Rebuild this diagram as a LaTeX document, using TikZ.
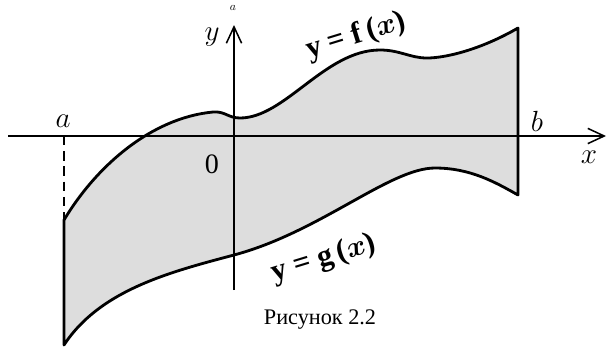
\documentclass[tikz,border=0pt]{standalone}
\usepackage{fontspec}
\setmainfont{Liberation Serif}
\usetikzlibrary{arrows.meta}
\definecolor{regiongray}{RGB}{221,221,221}
\begin{document}
\begin{tikzpicture}[
	x=0.03cm, y=-0.03cm,
	every node/.style={font=\fontsize{24}{28}\selectfont},
	axis/.style={line width=1.3pt, -{Straight Barb[length=14pt,width=13pt,line width=1.3pt]}},
	curve/.style={line width=2.4pt, line join=round},
	funclabel/.style={font=\fontsize{26}{30}\selectfont\bfseries, rotate=17, inner sep=1pt}
	]
	\useasboundingbox (0,0) rectangle (611,350);

	% Corners of the region
	\coordinate (atop) at (64,220);
	\coordinate (abot) at (64,345);
	\coordinate (btop) at (518,28);
	\coordinate (bbot) at (518,195);
	\coordinate (aaxis) at (64,136);

	% Region between y = f(x) and y = g(x)
	\draw[curve, fill=regiongray] (atop)
		.. controls (95,168) and (150,118) .. (213,112)
		.. controls (225,111) and (228,118) .. (240,118)
		.. controls (285,118) and (325,50) .. (380,50)
		.. controls (400,50) and (410,58) .. (427,58)
		.. controls (445,58) and (480,50) .. (btop)
		-- (bbot)
		.. controls (495,182) and (470,168) .. (435,168)
		.. controls (390,168) and (320,232) .. (234,255)
		.. controls (170,272) and (100,290) .. (abot)
		-- cycle;

	% Axes
	\coordinate (xstart) at (8,136);
	\coordinate (xend) at (606,136);
	\coordinate (ystart) at (234,290);
	\coordinate (yend) at (234,25);
	\draw[axis] (xstart) -- (xend);
	\draw[axis] (ystart) -- (yend);
	\draw[line width=1.3pt, dash pattern=on 8pt off 5pt] (aaxis) -- (atop);

	% Labels
	\node (alabel) at (63,121) {$a$};
	\node (blabel) at (537,121) {$b$};
	\node (xlabel) at (589,157) {$x$};
	\node (ylabel) at (212,37) {$y$};
	\node (origin) at (212,164) {0};
	\node (tick) [font=\fontsize{10}{12}\selectfont] at (233,8) {$a$};
	\node (flabel) [funclabel] at (356,36) {y = f\,({\boldmath$x$})};
	\node (glabel) [funclabel] at (324,259) {y = g\,({\boldmath$x$})};
	\node (caption) [font=\fontsize{19}{22}\selectfont] at (320,320) {Рисунок 2.2};
\end{tikzpicture}
\end{document}
